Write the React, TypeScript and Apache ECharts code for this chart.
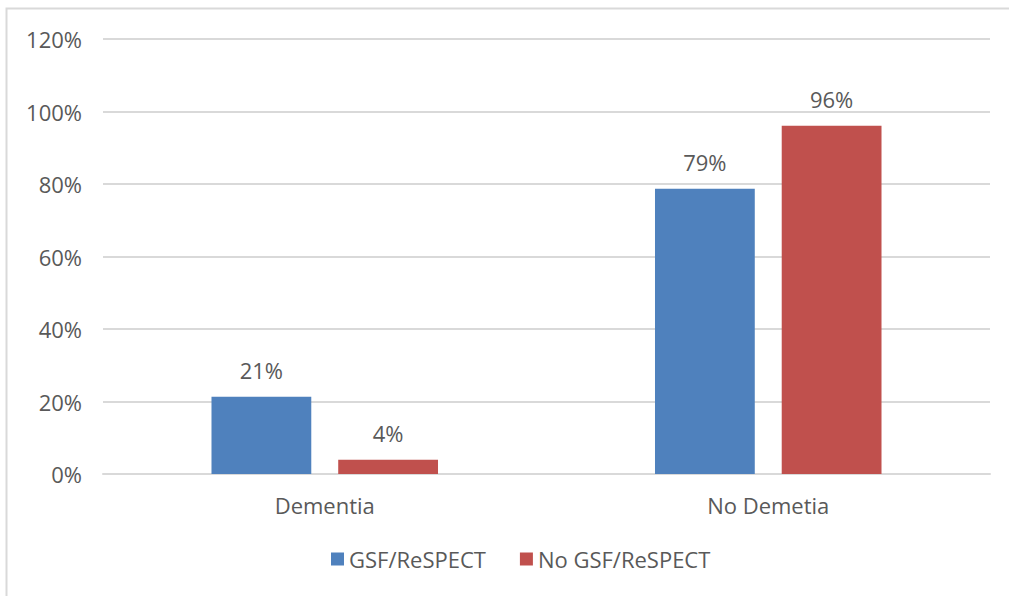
import React, { useEffect, useRef } from "react";
import * as echarts from "echarts";

const categories = ["Dementia", "No Demetia"];
const seriesNames = ["GSF/ReSPECT", "No GSF/ReSPECT"];
const gsfValues = [21.3, 78.7];
const noGsfValues = [3.9, 96.1];
const yTicks = { min: 0, max: 120, interval: 20 };

const FONT = "'Open Sans', 'Noto Sans', sans-serif";
const TEXT = "#595959";
const FS = 22;

export default function App() {
  const ref = useRef<HTMLDivElement>(null);
  useEffect(() => {
    if (!ref.current) return;
    const chart = echarts.init(ref.current, undefined, { renderer: "svg" });
    const label = {
      show: true,
      position: "top" as const,
      distance: 16,
      color: TEXT,
      fontFamily: FONT,
      fontSize: FS,
      formatter: (p: any) => Math.round(p.value) + "%",
    };
    chart.setOption({
      animation: false,
      backgroundColor: "#ffffff",
      textStyle: { fontFamily: FONT },
      graphic: [
        {
          type: "rect",
          shape: { x: 6.5, y: 8.5, width: 1010, height: 600 },
          style: { fill: "none", stroke: "#d9d9d9", lineWidth: 2 },
          silent: true,
        },
      ],
      grid: { left: 103, right: 19, top: 39, bottom: 122 },
      legend: {
        bottom: 21,
        left: 326,
        itemWidth: 13,
        itemHeight: 13,
        itemGap: 34,
        icon: "rect",
        textStyle: { color: TEXT, fontFamily: FONT, fontSize: FS },
        data: seriesNames,
      },
      xAxis: {
        type: "category",
        data: categories,
        axisLine: { lineStyle: { color: "#d9d9d9", width: 2 } },
        axisTick: { show: false },
        axisLabel: { color: TEXT, fontFamily: FONT, fontSize: FS, margin: 20 },
      },
      yAxis: {
        type: "value",
        min: yTicks.min,
        max: yTicks.max,
        interval: yTicks.interval,
        axisLine: { show: false },
        axisTick: { show: false },
        splitLine: { lineStyle: { color: "#d9d9d9", width: 2 } },
        axisLabel: {
          color: TEXT,
          fontFamily: FONT,
          fontSize: FS,
          margin: 21,
          formatter: (v: number) => v + "%",
        },
      },
      series: [
        {
          name: seriesNames[0],
          type: "bar",
          data: gsfValues,
          barWidth: "22.5%",
          barGap: "27%",
          itemStyle: { color: "#4f81bd" },
          label,
        },
        {
          name: seriesNames[1],
          type: "bar",
          data: noGsfValues,
          barWidth: "22.5%",
          barGap: "27%",
          itemStyle: { color: "#c0504d" },
          label,
        },
      ],
    });
    return () => chart.dispose();
  }, []);
  return (
    <div style={{ position: "fixed", left: 0, top: 0, width: 1009, height: 596, background: "#fff" }}>
      <div ref={ref} style={{ width: 1009, height: 596 }} />
    </div>
  );
}
